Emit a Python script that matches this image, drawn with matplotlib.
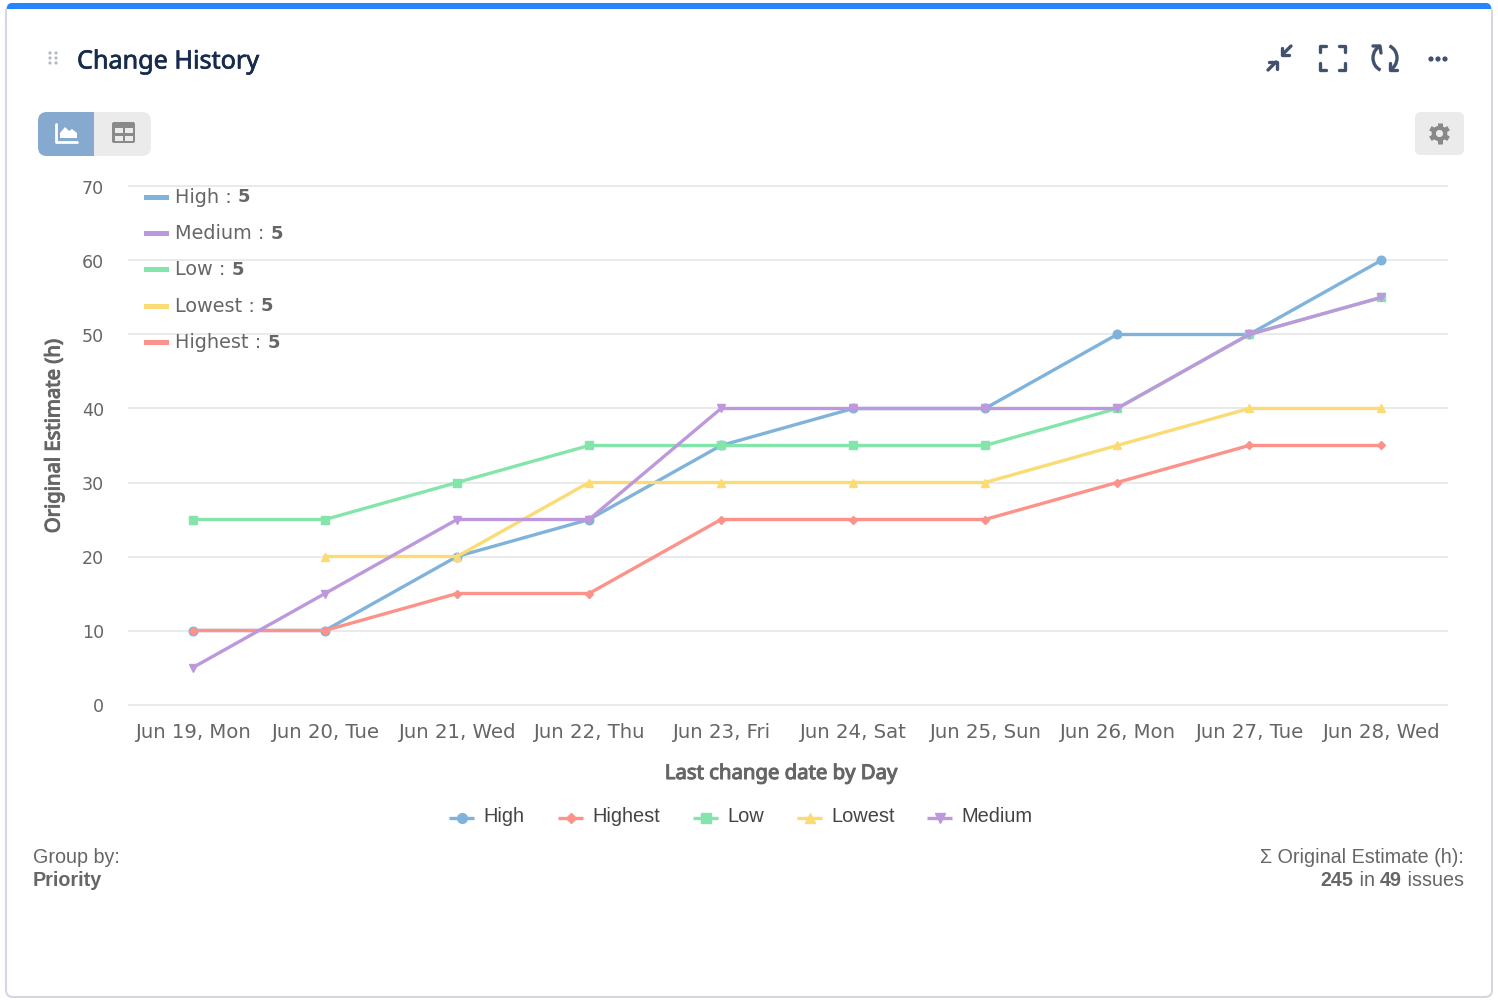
import math
import matplotlib
matplotlib.use("Agg")
import matplotlib.pyplot as plt
import matplotlib.patheffects as pe
from matplotlib.patches import FancyBboxPatch, Rectangle, Circle, Polygon, Arc

days = ["Jun 19, Mon", "Jun 20, Tue", "Jun 21, Wed", "Jun 22, Thu", "Jun 23, Fri",
        "Jun 24, Sat", "Jun 25, Sun", "Jun 26, Mon", "Jun 27, Tue", "Jun 28, Wed"]
high = [10, 10, 20, 25, 35, 40, 40, 50, 50, 60]
highest = [10, 10, 15, 15, 25, 25, 25, 30, 35, 35]
low = [25, 25, 30, 35, 35, 35, 35, 40, 50, 55]
lowest = [None, 20, 20, 30, 30, 30, 30, 35, 40, 40]
medium = [5, 15, 25, 25, 40, 40, 40, 40, 50, 55]
series_names = ["High", "Highest", "Low", "Lowest", "Medium"]
series_values = [high, highest, low, lowest, medium]
series_colors = ["#7FB3DC", "#FC9289", "#84E5AB", "#FBDB73", "#BD98DC"]
series_markers = ["o", "D", "s", "^", "v"]
series_msize = [6.2, 4.2, 6.2, 6, 6]
count_order = ["High", "Medium", "Low", "Lowest", "Highest"]
counts = [5, 5, 5, 5, 5]
yticks = [0, 10, 20, 30, 40, 50, 60, 70]

W, H = 1498, 1005
fig = plt.figure(figsize=(W / 100, H / 100), dpi=100, facecolor="white")


def fit(t, width):
    fig.canvas.draw()
    bb = t.get_window_extent()
    cur = max(bb.width, bb.height)
    t.set_fontsize(t.get_fontsize() * width / cur)


# page overlay in pixel coordinates
bg = fig.add_axes([0, 0, 1, 1], zorder=0)
bg.set_xlim(0, W); bg.set_ylim(H, 0); bg.axis("off")
bg.add_patch(FancyBboxPatch((6, 5), 1486, 992, boxstyle="round,pad=0,rounding_size=7",
                            fc="white", ec="#D3D8E0", lw=1.5))
bg.add_patch(FancyBboxPatch((7, 3), 1484, 14, boxstyle="round,pad=0,rounding_size=5",
                            fc="#2684FF", ec="none"))
bg.add_patch(Rectangle((7, 9), 1484, 10, fc="white", ec="none"))

# drag handle
for x in (50, 56):
    for y in (53, 58, 63):
        bg.add_patch(Circle((x, y), 1.6, fc="#B3BAC5", ec="none"))
title = bg.text(77, 62, "Change History", fontsize=18.2, family="Noto Sans", color="#172B4D",
                va="center", ha="left",
                path_effects=[pe.withStroke(linewidth=0.5, foreground="#172B4D")])
fit(title, 182)

icon = "#42526E"
# collapse arrows
for p in ([(1291, 46), (1283, 54)], [(1268, 70), (1276, 62)]):
    bg.plot(*zip(*p), color=icon, lw=2.4, solid_capstyle="round")
bg.plot([1282, 1282, 1289], [48, 55, 55], color=icon, lw=2.4, solid_capstyle="round")
bg.plot([1269, 1277, 1277], [62, 62, 69], color=icon, lw=2.4, solid_capstyle="round")
# fullscreen corners
for pts in ([(1320, 52), (1320, 46), (1326, 46)], [(1339, 46), (1345, 46), (1345, 52)],
            [(1320, 63), (1320, 70), (1326, 70)], [(1339, 70), (1345, 70), (1345, 63)]):
    bg.plot(*zip(*pts), color=icon, lw=2.4, solid_capstyle="round")
# refresh
bg.add_patch(Arc((1385, 58), 24, 26, theta1=110, theta2=250, color=icon, lw=2.4))
bg.add_patch(Arc((1385, 58), 24, 26, theta1=-70, theta2=70, color=icon, lw=2.4))
bg.plot([1373, 1380, 1381], [46, 46, 53], color=icon, lw=2.4, solid_capstyle="round")
bg.plot([1390, 1390, 1397], [63, 70, 70], color=icon, lw=2.4, solid_capstyle="round")
# more
for x in (1431, 1438, 1445):
    bg.add_patch(Circle((x, 59), 2.6, fc=icon, ec="none"))

# chart/table toggle
bg.add_patch(FancyBboxPatch((38, 112), 113, 44, boxstyle="round,pad=0,rounding_size=9",
                            fc="#EBEBEB", ec="none"))
clip = FancyBboxPatch((38, 112), 113, 44, boxstyle="round,pad=0,rounding_size=9",
                      fc="none", ec="none")
bg.add_patch(clip)
blue = Rectangle((38, 112), 56, 44, fc="#85A9CF", ec="none")
bg.add_patch(blue)
blue.set_clip_path(clip)
bg.plot([56, 56, 77], [124, 142, 142], color="white", lw=2.0, solid_capstyle="round")
bg.add_patch(Polygon([(60, 138), (60, 133), (65, 127), (69, 131), (72, 129), (77, 133), (77, 138)],
                     fc="white", ec="none"))
bg.add_patch(FancyBboxPatch((112, 122), 23, 21, boxstyle="round,pad=0,rounding_size=2",
                            fc="#8A8A8A", ec="none"))
for x in (115, 125):
    for y in (128, 136):
        bg.add_patch(Rectangle((x, y), 7.5, 5, fc="#EBEBEB", ec="none"))

# settings button
bg.add_patch(FancyBboxPatch((1415, 112), 49, 43, boxstyle="round,pad=0,rounding_size=6",
                            fc="#EBEBEB", ec="none"))
gx, gy = 1439.5, 133.5
for k in range(6):
    ang = math.radians(30 + 60 * k)
    bg.plot([gx, gx + 10.5 * math.cos(ang)], [gy, gy + 10.5 * math.sin(ang)],
            color="#888888", lw=3.6, solid_capstyle="butt", zorder=3)
bg.add_patch(Circle((gx, gy), 7.8, fc="#888888", ec="none", zorder=3))
bg.add_patch(Circle((gx, gy), 3.6, fc="#EBEBEB", ec="none", zorder=4))

# chart
left, right, top, bottom = 128, 1448, 186.5, 704.5
ax = fig.add_axes([left / W, 1 - bottom / H, (right - left) / W, (bottom - top) / H],
                  zorder=1, facecolor="none")
ax.set_xlim((left - 193) / 132, (right - 193) / 132)
ax.set_ylim(0, 70)
ax.set_yticks(yticks)
ax.set_xticks(range(len(days)))
ax.set_xticklabels(days)
ax.grid(axis="y", color="#E6E6E6", lw=1.2, clip_on=False)
for gl in ax.get_ygridlines():
    gl.set_solid_capstyle("butt")
ax.set_axisbelow(True)
for s in ("top", "right", "left", "bottom"):
    ax.spines[s].set_visible(False)
ax.tick_params(length=0, labelcolor="#666666")
ax.tick_params(axis="x", labelsize=14.2, pad=13.4)
ax.tick_params(axis="y", pad=17.3, labelsize=12.6)
for lb in ax.get_xticklabels():
    lb.set_family("DejaVu Sans")
for lb in ax.get_yticklabels():
    lb.set_family("DejaVu Sans")
    lb.set_y(lb.get_position()[1])

xs = list(range(len(days)))
for name, vals, c, m, ms in zip(series_names, series_values, series_colors, series_markers, series_msize):
    xv = [x for x, v in zip(xs, vals) if v is not None]
    yv = [v for v in vals if v is not None]
    ax.plot(xv, yv, color=c, lw=2.4, marker=m, ms=ms, mec=c, label=name, clip_on=False)

bold_fx = [pe.withStroke(linewidth=0.8, foreground="#666666")]
ax.set_xlabel("Last change date by Day", fontsize=14.5, family="Noto Sans", color="#666666",
              path_effects=bold_fx)
ax.xaxis.set_label_coords((781 - left) / (right - left), -(774 - bottom) / (bottom - top),
                          transform=ax.transAxes)
ax.xaxis.label.set_va("center")
fit(ax.xaxis.label, 233)
ax.set_ylabel("Original Estimate (h)", fontsize=14.5, family="Noto Sans", color="#666666",
              path_effects=bold_fx)
ax.yaxis.set_label_coords((54.5 - left) / (right - left), (bottom - 436) / (bottom - top),
                          transform=ax.transAxes)
ax.yaxis.label.set_va("center")
fit(ax.yaxis.label, 195)

# overlay on top for legends and footer
fg = fig.add_axes([0, 0, 1, 1], zorder=2, facecolor="none")
fg.set_xlim(0, W); fg.set_ylim(H, 0); fg.axis("off")

# in-plot count legend
color_of = dict(zip(series_names, series_colors))
for i, (name, n) in enumerate(zip(count_order, counts)):
    y = 197.3 + i * 36.3
    fg.add_patch(Rectangle((144, y - 2.5), 25, 5, fc=color_of[name], ec="none"))
    t = fg.text(175, y, f"{name} :", fontsize=13.9, family="DejaVu Sans", color="#666666",
                va="center", ha="left")
    fig.canvas.draw()
    bb = t.get_window_extent()
    fg.text(bb.x1 + 6, y, str(n), fontsize=13, family="DejaVu Sans", fontweight="bold",
            color="#666666", va="center", ha="left")

# bottom legend
leg_x = [449, 558, 693, 797, 927]
for x, name, c, m, ms in zip(leg_x, series_names, series_colors, series_markers, series_msize):
    fg.plot([x, x + 25], [818, 818], color=c, lw=2.4, solid_capstyle="butt")
    fg.plot([x + 12.5], [818], marker=m, ms=ms + 0.8, color=c, mec=c)
    fg.text(x + 34.5, 816.5, name, fontsize=14.4, family="Liberation Sans", color="#444444",
            va="center", ha="left")

# footer
FS = 14.2
fg.text(33, 857.5, "Group by:", fontsize=FS, family="Liberation Sans", color="#666666", va="center")
fg.text(33, 880.5, "Priority", fontsize=FS, family="Liberation Sans", color="#666666",
        fontweight="bold", va="center")
fg.text(1464, 857.5, "\u03a3 Original Estimate (h):", fontsize=FS, family="Liberation Sans",
        color="#666666", va="center", ha="right")
parts = [(" issues", "normal"), ("49", "bold"), (" in ", "normal"), ("245", "bold")]
xr = 1464
for s, w in parts:
    t = fg.text(xr, 880.5, s.replace(" ", "\u00a0"), fontsize=FS, family="Liberation Sans",
                color="#666666", fontweight=w, va="center", ha="right")
    fig.canvas.draw()
    xr = t.get_window_extent().x0

fig.savefig("out.png", dpi=100)
